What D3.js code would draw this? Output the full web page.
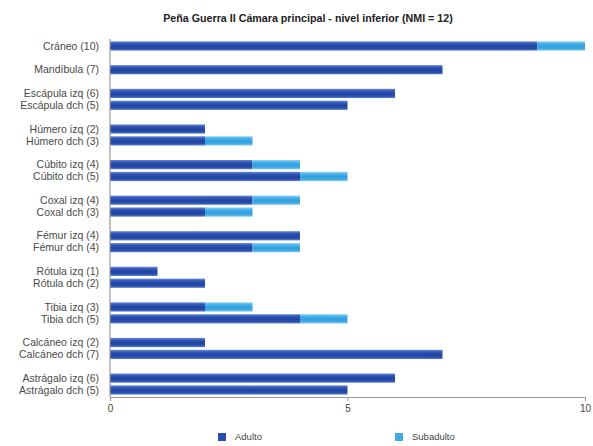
<!DOCTYPE html>
<html>
<head>
<meta charset="utf-8">
<script src="https://cdn.jsdelivr.net/npm/d3@7"></script>
<style>
  body { margin: 0; background: #fff; }
  text { font-family: "Liberation Sans", Arial, sans-serif; }
</style>
</head>
<body>
<div id="chart"></div>
<script>
// categories top to bottom; "" marks an empty spacer row
const categories = ["Cráneo (10)", "", "Mandíbula (7)", "",
  "Escápula izq (6)", "Escápula dch (5)", "",
  "Húmero izq (2)", "Húmero dch (3)", "",
  "Cúbito izq (4)", "Cúbito dch (5)", "",
  "Coxal izq (4)", "Coxal dch (3)", "",
  "Fémur izq (4)", "Fémur dch (4)", "",
  "Rótula izq (1)", "Rótula dch (2)", "",
  "Tibia izq (3)", "Tibia dch (5)", "",
  "Calcáneo izq (2)", "Calcáneo dch (7)", "",
  "Astrágalo izq (6)", "Astrágalo dch (5)"];
const adulto    = [9, 0, 7, 0, 6, 5, 0, 2, 2, 0, 3, 4, 0, 3, 2, 0, 4, 3, 0, 1, 2, 0, 2, 4, 0, 2, 7, 0, 6, 5];
const subadulto = [1, 0, 0, 0, 0, 0, 0, 0, 1, 0, 1, 1, 0, 1, 1, 0, 0, 1, 0, 0, 0, 0, 1, 1, 0, 0, 0, 0, 0, 0];
const seriesNames = ["Adulto", "Subadulto"];
const xTicks = [0, 5, 10];

const W = 593, H = 446;
const margin = { top: 39, right: 8, bottom: 49, left: 110 };
const width = W - margin.left - margin.right,
      height = H - margin.top - margin.bottom;

const svg = d3.select("#chart").append("svg")
  .attr("width", W).attr("height", H);

const defs = svg.append("defs");
const grads = [
  { id: "gAd", stops: ["#6b8cd6", "#2f55b8", "#22449f", "#2a4fae", "#6488d2"] },
  { id: "gSub", stops: ["#8fd2f5", "#45b0ea", "#349fde", "#3ea9e5", "#86ccf2"] }
];
grads.forEach(g => {
  const lg = defs.append("linearGradient").attr("id", g.id)
    .attr("x1", 0).attr("y1", 0).attr("x2", 0).attr("y2", 1);
  [0, 0.25, 0.55, 0.8, 1].forEach((o, i) =>
    lg.append("stop").attr("offset", o).attr("stop-color", g.stops[i]));
});
const fills = ["url(#gAd)", "url(#gSub)"];
const legendColors = ["#2b4fb0", "#3eaae6"];

const g = svg.append("g").attr("transform", `translate(${margin.left},${margin.top})`);

const x = d3.scaleLinear().domain([0, 10]).range([0, width]);
const y = d3.scaleBand().domain(d3.range(categories.length)).range([0, height]).paddingInner(0.22).paddingOuter(0.2);

// stacked bars
const rows = categories.map((c, i) => ({ i, c, a: adulto[i], s: subadulto[i] }));
const stack = d3.stack().keys(["a", "s"])(rows);

g.selectAll(".layer").data(stack).enter().append("g")
  .attr("fill", (d, k) => fills[k])
  .selectAll("rect").data(d => d.filter(p => p[1] > p[0])).enter().append("rect")
  .attr("x", d => x(d[0]))
  .attr("y", d => y(d.data.i))
  .attr("width", d => x(d[1]) - x(d[0]))
  .attr("height", y.bandwidth());

// y axis
g.append("line").attr("x1", 0).attr("x2", 0).attr("y1", 0).attr("y2", height)
  .attr("stroke", "#999").attr("stroke-width", 1.2);
g.selectAll(".ylab").data(rows.filter(d => d.c !== "")).enter().append("text")
  .attr("x", -11).attr("y", d => y(d.i) + y.bandwidth() / 2)
  .attr("dy", "0.35em").attr("text-anchor", "end")
  .attr("font-size", "10.5px").attr("fill", "#4a4a4a")
  .text(d => d.c);

// x axis
const xAxis = g.append("g").attr("transform", `translate(0,${height})`)
  .call(d3.axisBottom(x).tickValues(xTicks).tickSize(4).tickFormat(d3.format("d")));
xAxis.select(".domain").attr("stroke", "#999").attr("stroke-width", 1.2);
xAxis.selectAll(".tick line").attr("stroke", "#999");
xAxis.selectAll("text").attr("font-size", "10px").attr("fill", "#444")
  .style("font-family", "'Liberation Sans', Arial, sans-serif").attr("dy", "0.8em");

// title
svg.append("text").attr("x", 308).attr("y", 22).attr("text-anchor", "middle")
  .attr("font-size", "10.7px").attr("font-weight", "bold").attr("fill", "#222")
  .text("Peña Guerra II Cámara principal - nivel inferior (NMI = 12)");

// legend
const legendX = [218, 395];
const lg = svg.selectAll(".leg").data(seriesNames).enter().append("g")
  .attr("transform", (d, i) => `translate(${legendX[i]},433)`);
lg.append("rect").attr("width", 8).attr("height", 8).attr("fill", (d, i) => legendColors[i]);
lg.append("text").attr("x", 17).attr("y", 4).attr("dy", "0.35em")
  .attr("font-size", "9.5px").attr("fill", "#444").text(d => d);
</script>
</body>
</html>
